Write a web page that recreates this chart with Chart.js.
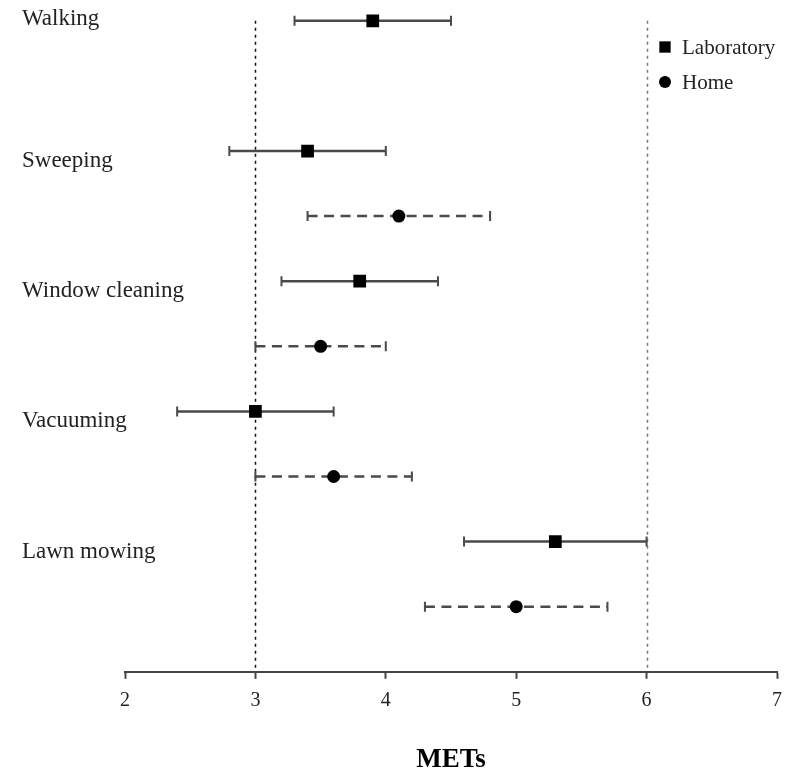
<!DOCTYPE html>
<html>
<head>
<meta charset="utf-8">
<script src="https://cdn.jsdelivr.net/npm/chart.js@4.4.1/dist/chart.umd.min.js"></script>
<style>
  body { margin: 0; background: #fff; }
  #wrap { width: 792px; height: 768px; }
</style>
</head>
<body>
<div id="wrap"><canvas id="metChart" width="792" height="768"></canvas></div>
<script>
const categories = ['Walking', 'Sweeping', 'Window cleaning', 'Vacuuming', 'Lawn mowing'];
const labMean = [3.9, 3.4, 3.8, 3.0, 5.3];
const labLow = [3.3, 2.8, 3.2, 2.4, 4.6];
const labHigh = [4.5, 4.0, 4.4, 3.6, 6.0];
const homeMean = [null, 4.1, 3.5, 3.6, 5.0];
const homeLow = [null, 3.4, 3.0, 3.0, 4.3];
const homeHigh = [null, 4.8, 4.0, 4.2, 5.7];
const refLines = [3, 6];
const xTicks = [2, 3, 4, 5, 6, 7];

const serif = '"Liberation Serif", "Times New Roman", serif';

// each activity takes two rows: laboratory then home
const labRows = labMean.map((v, i) => ({ x: v, y: i * 2, lo: labLow[i], hi: labHigh[i] }));
const homeRows = homeMean.map((v, i) => ({ x: v, y: i * 2 + 1, lo: homeLow[i], hi: homeHigh[i] }))
    .filter(p => p.x !== null);

const extras = {
    id: 'extras',
    beforeDatasetsDraw(chart) {
        const { ctx, chartArea, scales: { x, y } } = chart;
        ctx.save();
        // reference lines
        refLines.forEach((v, i) => {
            const px = Math.round(x.getPixelForValue(v)) + 0.5;
            ctx.strokeStyle = i === 0 ? '#111' : '#777';
            ctx.lineWidth = 1.5;
            ctx.setLineDash([3, 4]);
            ctx.beginPath();
            ctx.moveTo(px, y.getPixelForValue(0));
            ctx.lineTo(px, chartArea.bottom);
            ctx.stroke();
        });
        // error bars
        chart.data.datasets.forEach(ds => {
            ctx.strokeStyle = '#4a4a4a';
            ds.data.forEach(p => {
                const py = y.getPixelForValue(p.y);
                const x1 = x.getPixelForValue(p.lo), x2 = x.getPixelForValue(p.hi);
                ctx.lineWidth = 2.5;
                ctx.setLineDash(ds.dashed ? [10, 6.5] : []);
                ctx.beginPath();
                ctx.moveTo(x1, py);
                ctx.lineTo(x2, py);
                ctx.stroke();
                ctx.setLineDash([]);
                ctx.lineWidth = 2;
                ctx.beginPath();
                ctx.moveTo(x1, py - 5); ctx.lineTo(x1, py + 5);
                ctx.moveTo(x2, py - 5); ctx.lineTo(x2, py + 5);
                ctx.stroke();
            });
        });
        ctx.restore();
    },
    afterDraw(chart) {
        const { ctx, chartArea, scales: { y } } = chart;
        ctx.save();
        ctx.fillStyle = '#222';
        ctx.font = '23px ' + serif;
        ctx.textAlign = 'left';
        ctx.textBaseline = 'middle';
        categories.forEach((c, i) => {
            const py = i === 0 ? chartArea.top + 19 : y.getPixelForValue(i * 2) + 10;
            ctx.fillText(c, 22, py);
        });
        // legend
        const lx = chartArea.right - 112;
        chart.data.datasets.forEach((ds, i) => {
            const ly = chartArea.top + 47 + i * 35;
            ctx.fillStyle = '#000';
            Chart.helpers.drawPoint(ctx, { pointStyle: ds.pointStyle, radius: ds.legendRadius, rotation: 0, borderWidth: 0 }, lx, ly);
            ctx.fillStyle = '#222';
            ctx.font = '21px ' + serif;
            ctx.fillText(ds.label, lx + 17, ly + 1);
        });
        ctx.restore();
    }
};

new Chart(document.getElementById('metChart').getContext('2d'), {
    type: 'scatter',
    data: {
        datasets: [{
            label: 'Laboratory',
            data: labRows,
            pointStyle: 'rect',
            pointRadius: 9,
            legendRadius: 8,
            backgroundColor: '#000',
            borderColor: '#000',
            borderWidth: 0,
            dashed: false
        }, {
            label: 'Home',
            data: homeRows,
            pointStyle: 'circle',
            pointRadius: 6.5,
            legendRadius: 6,
            backgroundColor: '#000',
            borderColor: '#000',
            borderWidth: 0,
            dashed: true
        }]
    },
    options: {
        responsive: false,
        animation: false,
        events: [],
        layout: {
            autoPadding: false,
            padding: { left: 125, right: 15, top: 0, bottom: 0 }
        },
        scales: {
            x: {
                type: 'linear',
                min: 2,
                max: 7,
                afterBuildTicks: axis => { axis.ticks = xTicks.map(v => ({ value: v })); },
                grid: { drawOnChartArea: false, drawTicks: true, tickLength: 7, tickColor: '#444', tickWidth: 2 },
                border: { display: true, color: '#444', width: 2 },
                ticks: { color: '#222', padding: 10, font: { family: serif, size: 20 } },
                title: {
                    display: true,
                    text: 'METs',
                    color: '#000',
                    font: { family: serif, size: 27, weight: 'bold', lineHeight: 0.6 },
                    padding: { top: 29, bottom: 0 }
                }
            },
            y: {
                display: false,
                reverse: true,
                min: -0.32,
                max: 10
            }
        },
        plugins: {
            legend: { display: false },
            tooltip: { enabled: false }
        }
    },
    plugins: [extras]
});
</script>
</body>
</html>
